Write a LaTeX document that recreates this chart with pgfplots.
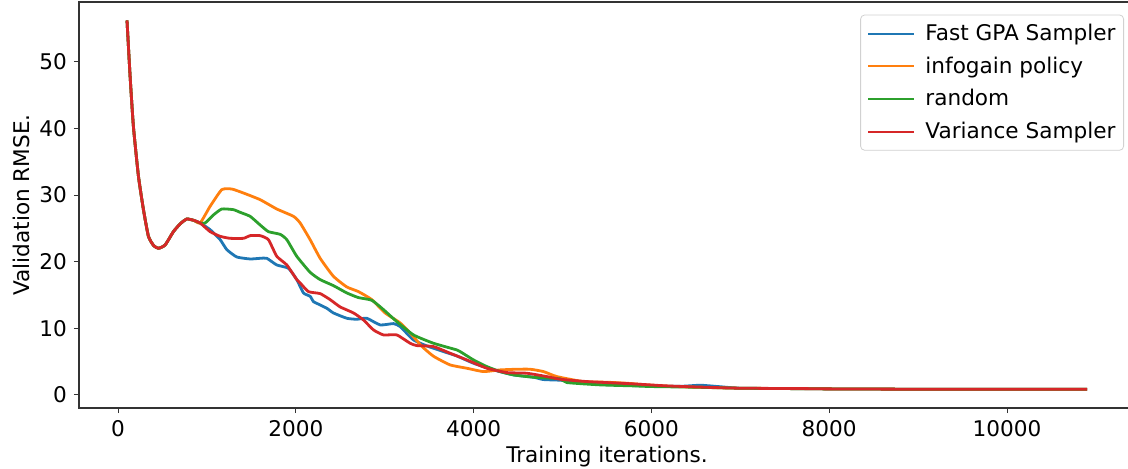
\documentclass[border=0pt]{standalone}
\usepackage{fontspec}
\setmainfont{DejaVu Sans}
\usepackage{pgfplots}
\pgfplotsset{compat=1.18}

\definecolor{tabblue}{HTML}{1F77B4}
\definecolor{taborange}{HTML}{FF7F0E}
\definecolor{tabgreen}{HTML}{2CA02C}
\definecolor{tabred}{HTML}{D62728}

\begin{document}
\begin{tikzpicture}
\useasboundingbox (-39.5pt,-30pt) rectangle (524.5pt,204pt);
\clip (-39.5pt,-30pt) rectangle (524.5pt,204pt);
\begin{axis}[
    at={(0,0)}, anchor=south west,
    scale only axis,
    width=528pt, height=203pt,
    xmin=-440, xmax=11440,
    ymin=-1.97, ymax=58.97,
    xtick={0,2000,4000,6000,8000,10000},
    ytick={0,10,20,30,40,50},
    scaled x ticks=false,
    /pgf/number format/assume math mode=true,
    /pgf/number format/1000 sep={},
    tick align=outside,
    major tick length=2.5pt,
    tick style={black!80, line width=0.5pt},
    axis line style={black!80, line width=0.6pt},
    xtick pos=bottom, ytick pos=left,
    every tick label/.append style={font=\fontsize{10.8}{13}\selectfont},
    xlabel={Training iterations.},
    ylabel={Validation RMSE.},
    label style={font=\fontsize{10.8}{13}\selectfont},
    xlabel style={yshift=2pt},
    ylabel style={yshift=-2pt},
    legend style={at={(axis description cs:1,1)}, xshift=-5.5pt, yshift=-6.3pt,
        anchor=north east, draw=black!18, rounded corners=2pt,
        font=\fontsize{10.8}{13}\selectfont, row sep=2.6pt,
        inner xsep=2pt, inner ysep=2.5pt},
    legend cell align=left,
    legend image code/.code={\draw[#1, sharp plot, line width=1pt] (0pt,0pt) -- (23pt,0pt);
        \path (-1pt,0pt) (26pt,0pt);},
    every axis plot/.append style={line width=1.4pt, line join=round, smooth, tension=0.3},
]
% Fast GPA Sampler
\addplot[tabblue] coordinates {
(100,56.2) (135,47.8) (172,40.3) (229,32.8) (285,27.8) (341,23.8) (400,22.4)
(454,22.0) (529,22.5) (622,24.5) (700,25.7) (773,26.4) (850,26.2) (923,25.8)
(1035,24.8) (1148,23.3) (1223,21.8) (1335,20.7) (1485,20.4) (1598,20.5)
(1673,20.5) (1785,19.5) (1916,19.0) (2010,17.3) (2085,15.3) (2160,14.8)
(2198,14.0) (2273,13.5) (2348,13.0) (2422,12.3) (2573,11.5) (2685,11.35)
(2798,11.5) (2948,10.5) (3098,10.7) (3173,10.25) (3323,8.25) (3473,7.35)
(3660,6.5) (3810,5.85) (3998,4.75) (4223,3.75) (4448,3.0) (4673,2.65)
(4785,2.3) (4973,2.2) (5231,1.9) (5500,1.55) (5800,1.4) (6100,1.3)
(6350,1.3) (6550,1.45) (6750,1.25) (7000,1.0) (7500,0.95) (8000,0.9)
(9000,0.85) (10000,0.85) (10900,0.85)
};
% infogain policy
\addplot[taborange] coordinates {
(100,56.2) (135,47.8) (172,40.3) (229,32.8) (285,27.8) (341,23.8) (400,22.4)
(454,22.0) (529,22.5) (622,24.5) (700,25.7) (773,26.4) (850,26.2) (923,25.8)
(1035,28.3) (1166,30.8) (1279,30.9) (1410,30.3) (1598,29.3) (1785,27.9)
(1973,26.8) (2048,25.8) (2160,23.3) (2273,20.5) (2422,17.8) (2573,16.2)
(2704,15.5) (2854,14.3) (3004,12.3) (3173,10.8) (3285,9.3) (3416,7.3)
(3548,5.8) (3735,4.5) (3923,4.0) (4110,3.5) (4298,3.75) (4485,3.85)
(4635,3.85) (4785,3.5) (4935,2.75) (5231,2.0) (5500,1.9) (5723,1.75)
(5948,1.5) (6200,1.3) (6500,1.15) (7000,1.0) (7500,0.95) (8000,0.9)
(9000,0.85) (10000,0.85) (10900,0.85)
};
% random
\addplot[tabgreen] coordinates {
(100,56.2) (135,47.8) (172,40.3) (229,32.8) (285,27.8) (341,23.8) (400,22.4)
(454,22.0) (529,22.5) (622,24.5) (700,25.7) (773,26.4) (850,26.2) (923,25.8)
(979,25.8) (1072,27.0) (1166,27.9) (1297,27.8) (1373,27.4) (1485,26.8)
(1598,25.5) (1691,24.5) (1823,24.1) (1898,23.3) (2010,20.8) (2160,18.4)
(2273,17.3) (2422,16.4) (2573,15.3) (2704,14.6) (2854,14.2) (2985,12.8)
(3135,11.0) (3323,9.0) (3548,7.75) (3810,6.75) (3848,6.5) (3998,5.25)
(4148,4.25) (4298,3.5) (4448,3.0) (4672,2.65) (4973,2.4) (5048,1.85)
(5423,1.5) (5798,1.35) (6000,1.25) (6500,1.15) (7000,1.0) (7500,0.95)
(8000,0.9) (9000,0.85) (10000,0.85) (10900,0.85)
};
% Variance Sampler
\addplot[tabred] coordinates {
(100,56.2) (135,47.8) (172,40.3) (229,32.8) (285,27.8) (341,23.8) (400,22.4)
(454,22.0) (529,22.5) (622,24.5) (700,25.7) (773,26.4) (850,26.2) (923,25.8)
(1035,24.5) (1148,23.8) (1260,23.5) (1410,23.5) (1485,23.9) (1598,23.9)
(1691,23.3) (1785,20.8) (1898,19.5) (2010,17.3) (2048,16.8) (2141,15.5)
(2273,15.2) (2385,14.3) (2498,13.2) (2648,12.3) (2760,11.25) (2873,9.75)
(2985,9.0) (3135,9.0) (3285,7.75) (3360,7.4) (3548,7.25) (3735,6.25)
(3923,5.25) (4148,4.0) (4373,3.35) (4598,3.25) (4823,2.75) (4973,2.35)
(5273,2.0) (5798,1.65) (6173,1.35) (6600,1.15) (7000,1.0) (7673,0.95)
(8000,0.9) (9000,0.85) (10000,0.85) (10900,0.85)
};
\legend{Fast GPA Sampler, infogain policy, random, Variance Sampler}
\end{axis}
\end{tikzpicture}
\end{document}
